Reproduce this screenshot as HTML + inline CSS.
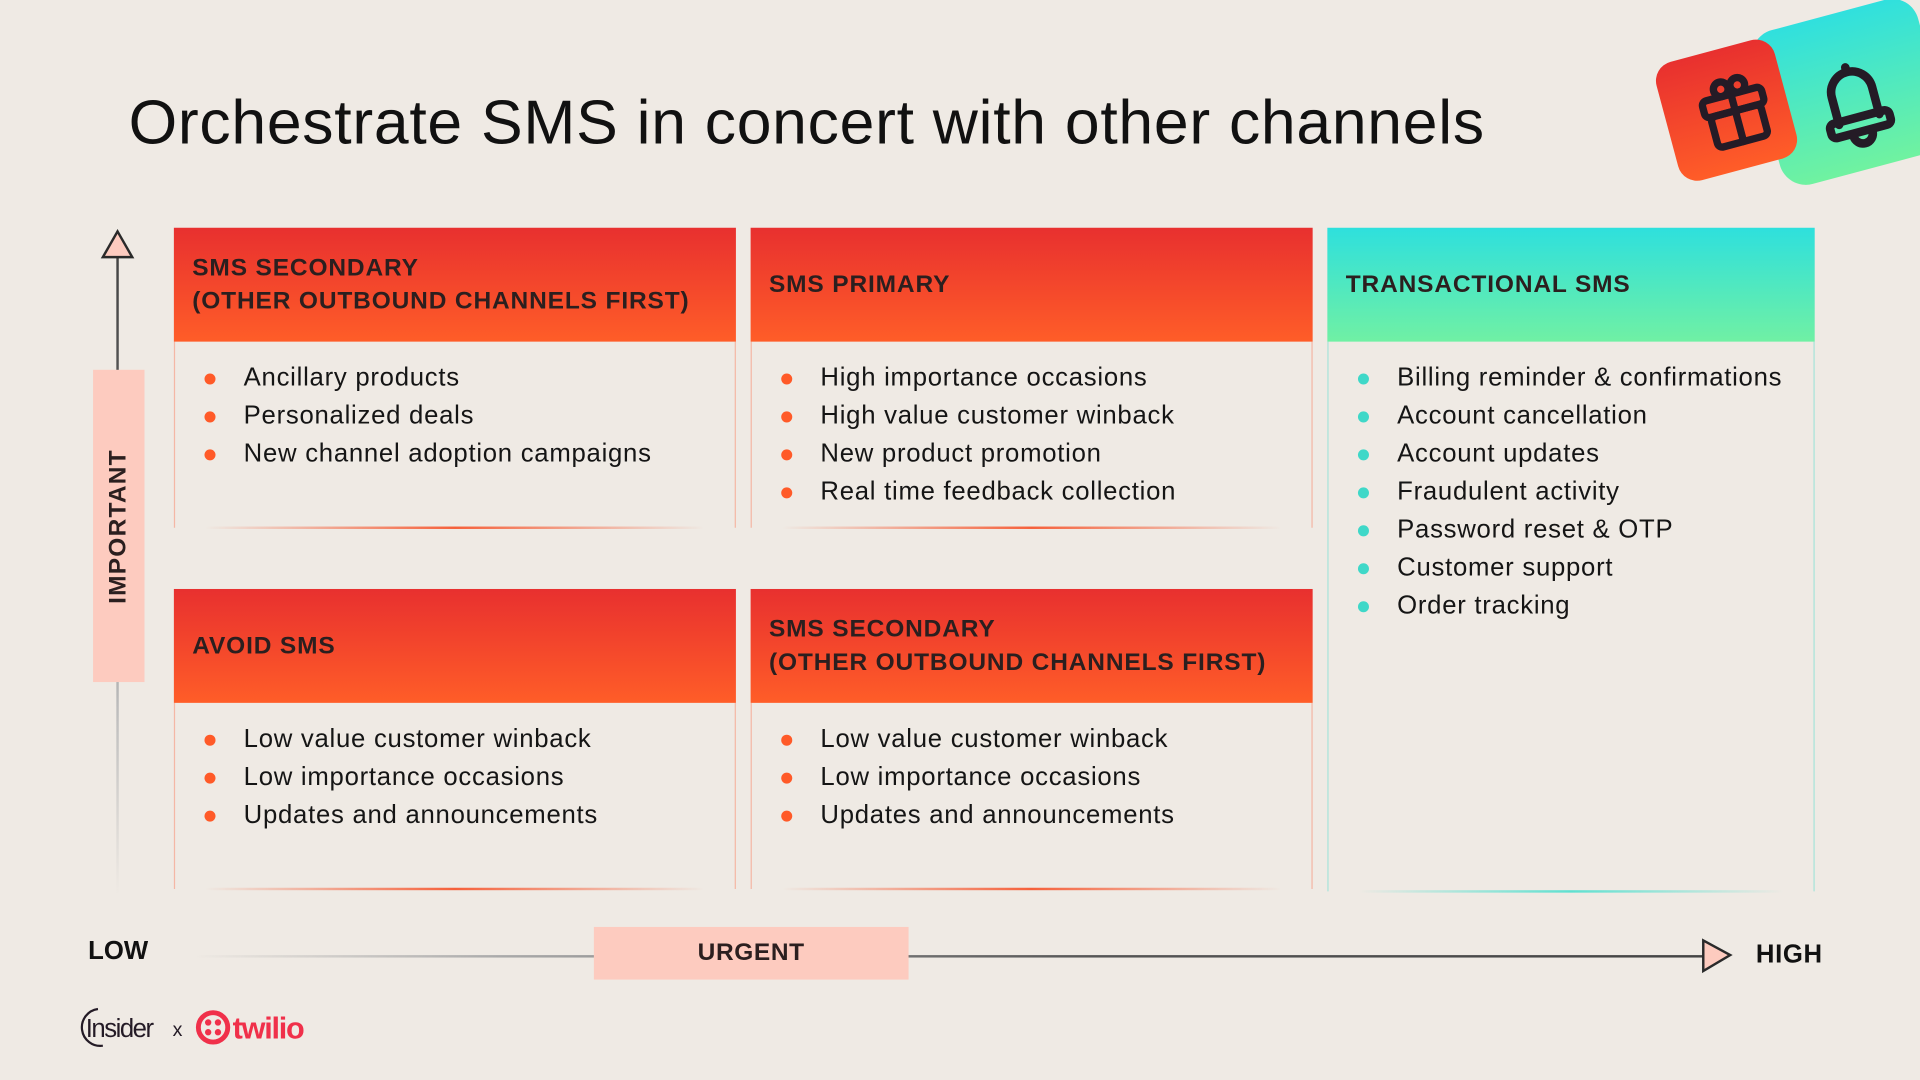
<!DOCTYPE html>
<html><head><meta charset="utf-8"><style>
html,body{margin:0;padding:0;background:#efeae4;width:1920px;height:1080px;overflow:hidden}
#w{position:absolute;left:0;top:0;width:1568px;height:882px;transform:scale(1.22449);transform-origin:0 0;font-family:"Liberation Sans",sans-serif;color:#111}
.a{position:absolute}
.title{left:105px;top:70px;font-size:51px;letter-spacing:0.6px;white-space:nowrap;color:#111}
.card{position:absolute}
.hd{position:absolute;left:0;right:0;top:0;height:93px;background:linear-gradient(180deg,#e8302f,#ff5d28);}
.hd.t{background:linear-gradient(180deg,#2ee0dd,#70f0a4)}
.hd div{position:absolute;left:15px;top:50%;transform:translateY(-50%);font-weight:bold;font-size:20px;letter-spacing:0.7px;line-height:27px;color:#2b1f1f;white-space:nowrap}
.bd{position:absolute;left:0;right:0;top:93px;bottom:0;border-left:1px solid rgba(255,90,50,.35);border-right:1px solid rgba(255,90,50,.35)}
.bd.t{border-color:rgba(60,220,200,.4)}
.bl{position:absolute;left:25px;right:25px;bottom:-1px;height:2px;background:linear-gradient(90deg,transparent,#f5603a,transparent)}
.bl.t{background:linear-gradient(90deg,transparent,#5ee0d0,transparent)}
ul{list-style:none;margin:0;padding:0;position:absolute;left:21px;top:14px}
li{font-size:21px;letter-spacing:0.6px;line-height:31px;padding-left:35px;position:relative;white-space:nowrap;color:#151515}
li:before{content:"";position:absolute;left:3px;top:12px;width:9px;height:9px;border-radius:50%;background:#ff5a28}
.t li:before{background:#3fd8c8}
</style></head><body><div id="w">
<div class="a title">Orchestrate SMS in concert with other channels</div>

<div class="a" style="left:1440px;top:10px;width:140px;height:130px;border-radius:22px;background:linear-gradient(180deg,#30e0de,#70f2a0);transform:rotate(-15deg)"></div>
<div class="a" style="left:1360px;top:40px;width:100px;height:100px;border-radius:16px;background:linear-gradient(180deg,#e8302f,#ff5d28);transform:rotate(-15deg)"></div>
<svg class="a" style="left:1370px;top:50px" width="200" height="90" viewBox="0 0 200 90">
<g fill="none" stroke="#241b26" stroke-width="6" stroke-linecap="round" stroke-linejoin="round" transform="rotate(-15 45 40)">
<rect x="22" y="27" width="50" height="14" rx="4"/><rect x="26" y="41" width="42" height="26" rx="4"/><line x1="47" y1="27" x2="47" y2="67"/><circle cx="40" cy="21" r="6"/><circle cx="54" cy="21" r="6"/></g>
<g fill="none" stroke="#241b26" stroke-width="7" stroke-linecap="round" stroke-linejoin="round" transform="rotate(-15 145 35)">
<path d="M128 48 V25 a17 17 0 0 1 34 0 V48"/><rect x="120" y="46" width="50" height="12" rx="4"/><path d="M137 60 a8 8 0 0 0 16 0"/><line x1="145" y1="4" x2="145" y2="6"/></g>
</svg>

<div class="a" style="left:95px;top:210px;width:2px;height:520px;background:linear-gradient(180deg,#444 0%,#555 20%,#bbb 70%,rgba(0,0,0,0) 100%)"></div>
<svg class="a" style="left:82px;top:187px" width="30" height="26"><polygon points="14,2 26,23 2,23" fill="#fdcbbf" stroke="#2a2a2a" stroke-width="2"/></svg>
<div class="a" style="left:76px;top:302px;width:42px;height:255px;background:#fdcbbf"></div>
<div class="a" style="left:97px;top:430px;transform:translate(-50%,-50%) rotate(-90deg);font-weight:bold;font-size:20px;letter-spacing:1px;color:#2b1f1f;white-space:nowrap">IMPORTANT</div>

<div class="card" style="left:142px;top:186px;width:459px;height:245px"><div class="hd"><div>SMS SECONDARY<br>(OTHER OUTBOUND CHANNELS FIRST)</div></div><div class="bd"><ul><li>Ancillary products</li><li>Personalized deals</li><li>New channel adoption campaigns</li></ul><div class="bl"></div></div></div>
<div class="card" style="left:613px;top:186px;width:459px;height:245px"><div class="hd"><div>SMS PRIMARY</div></div><div class="bd"><ul><li>High importance occasions</li><li>High value customer winback</li><li>New product promotion</li><li>Real time feedback collection</li></ul><div class="bl"></div></div></div>
<div class="card t" style="left:1084px;top:186px;width:398px;height:542px"><div class="hd t"><div>TRANSACTIONAL SMS</div></div><div class="bd t"><ul><li>Billing reminder &amp; confirmations</li><li>Account cancellation</li><li>Account updates</li><li>Fraudulent activity</li><li>Password reset &amp; OTP</li><li>Customer support</li><li>Order tracking</li></ul><div class="bl t"></div></div></div>
<div class="card" style="left:142px;top:481px;width:459px;height:245px"><div class="hd"><div>AVOID SMS</div></div><div class="bd"><ul><li>Low value customer winback</li><li>Low importance occasions</li><li>Updates and announcements</li></ul><div class="bl"></div></div></div>
<div class="card" style="left:613px;top:481px;width:459px;height:245px"><div class="hd"><div>SMS SECONDARY<br>(OTHER OUTBOUND CHANNELS FIRST)</div></div><div class="bd"><ul><li>Low value customer winback</li><li>Low importance occasions</li><li>Updates and announcements</li></ul><div class="bl"></div></div></div>

<div class="a" style="left:72px;top:765px;font-weight:bold;font-size:21px;color:#111">LOW</div>
<div class="a" style="left:160px;top:780px;width:1232px;height:1.5px;background:linear-gradient(90deg,rgba(0,0,0,0),#aaa 20%,#555 60%,#444)"></div>
<div class="a" style="left:485px;top:757px;width:257px;height:43px;background:#fdcbbf;text-align:center;line-height:43px;font-weight:bold;font-size:20px;letter-spacing:0.5px;color:#2b1f1f">URGENT</div>
<svg class="a" style="left:1389px;top:766px" width="28" height="30"><polygon points="2,2 24,14 2,27" fill="#fdcbbf" stroke="#2a2a2a" stroke-width="2"/></svg>
<div class="a" style="left:1434px;top:768px;font-weight:bold;font-size:21px;letter-spacing:0.5px;color:#111">HIGH</div>

<svg class="a" style="left:62px;top:820px" width="200" height="40">
<path d="M18 4 A15 15 0 1 0 22 34" fill="none" stroke="#241b26" stroke-width="1.8"/>
<text x="8" y="27" font-family="Liberation Sans,sans-serif" font-size="21" fill="#241b26" letter-spacing="-1.2">Insider</text>
<text x="79" y="26" font-family="Liberation Sans,sans-serif" font-size="16" fill="#241b26">x</text>
<circle cx="112" cy="19" r="12" fill="none" stroke="#f0304a" stroke-width="4"/>
<circle cx="108" cy="15" r="2.6" fill="#f0304a"/><circle cx="116" cy="15" r="2.6" fill="#f0304a"/><circle cx="108" cy="23" r="2.6" fill="#f0304a"/><circle cx="116" cy="23" r="2.6" fill="#f0304a"/>
<text x="128" y="28" font-family="Liberation Sans,sans-serif" font-weight="bold" font-size="25" fill="#f0304a" letter-spacing="-1">twilio</text>
</svg>
</div></body></html>
